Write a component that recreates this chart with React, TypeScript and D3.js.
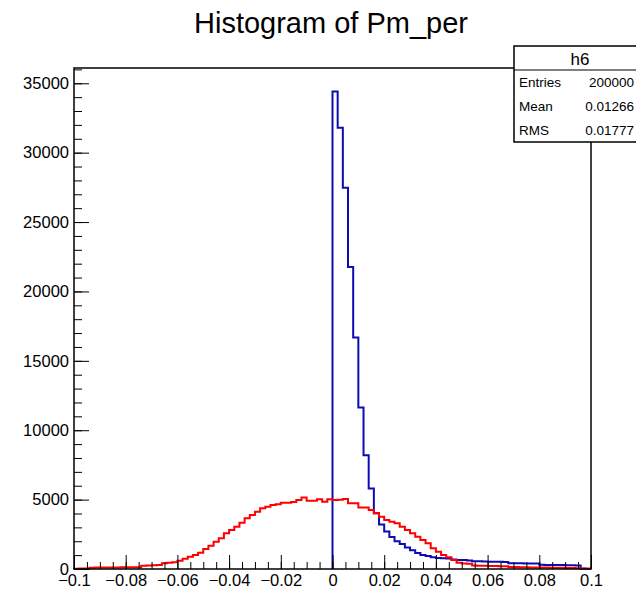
import { useEffect, useRef } from "react";
import * as d3 from "d3";

// histogram h6, 100 bins from -0.1 to 0.1
const xMin = -0.1;
const xMax = 0.1;
const binCount = 100;

const blueCounts = [
  0, 0, 0, 0, 0, 0, 0, 0, 0, 0,
  0, 0, 0, 0, 0, 0, 0, 0, 0, 0,
  0, 0, 0, 0, 0, 0, 0, 0, 0, 0,
  0, 0, 0, 0, 0, 0, 0, 0, 0, 0,
  0, 0, 0, 0, 0, 0, 0, 0, 0, 0,
  34400, 31800, 27470, 21760, 16675, 11640, 8200, 5805, 4010, 3200,
  2700, 2300, 2000, 1800, 1550, 1350, 1150, 1000, 930, 850,
  800, 770, 750, 680, 640, 640, 620, 560, 550, 540,
  530, 520, 520, 510, 420, 410, 410, 400, 400, 390,
  300, 290, 290, 280, 280, 270, 270, 260, 30, 20,
];

const redCounts = [
  20, 30, 40, 90, 100, 100, 110, 110, 110, 120,
  120, 130, 130, 240, 260, 270, 280, 420, 450, 480,
  600, 740, 890, 1000, 1170, 1440, 1680, 1970, 2210, 2570,
  2810, 3050, 3330, 3650, 3890, 4130, 4370, 4490, 4610, 4660,
  4770, 4780, 4830, 4970, 5160, 4920, 4920, 5020, 4850, 5020,
  4970, 4990, 5040, 4730, 4730, 4440, 4440, 4250, 4010, 3770,
  3530, 3410, 3290, 3050, 2810, 2570, 2330, 2090, 1850, 1490,
  1250, 1010, 840, 650, 450, 400, 380, 260, 240, 230,
  220, 210, 200, 190, 150, 140, 130, 120, 115, 110,
  105, 100, 95, 90, 85, 80, 70, 60, 20, 10,
];

const xTicks = [-0.1, -0.08, -0.06, -0.04, -0.02, 0, 0.02, 0.04, 0.06, 0.08, 0.1];
const yTicks = [0, 5000, 10000, 15000, 20000, 25000, 30000, 35000];
const yMax = 36100;

const statNames = ["Entries", "Mean", "RMS"];
const statValues = ["200000", "0.01266", "0.01777"];

const font = "'Liberation Sans', Arial, Helvetica, sans-serif";

export default function App() {
  const svgRef = useRef<SVGSVGElement>(null);

  useEffect(() => {
    if (!svgRef.current) return;
    const svg = d3.select(svgRef.current);
    svg.selectAll("*").remove();

    const left = 74, right = 591, top = 68, bottom = 569;
    const x = d3.scaleLinear().domain([xMin, xMax]).range([left, right]);
    const y = d3.scaleLinear().domain([0, yMax]).range([bottom, top]);
    const binW = (xMax - xMin) / binCount;

    // title
    svg.append("text")
      .attr("x", 331).attr("y", 33)
      .attr("text-anchor", "middle")
      .style("font-family", font).style("font-size", "29px")
      .text("Histogram of Pm_per");

    // histogram outline as steps
    const stepPoints = (counts: number[]) => {
      let first = counts.findIndex((c) => c > 0);
      if (first < 0) first = 0;
      const pts: [number, number][] = [[x(xMin + first * binW), y(0)]];
      for (let i = first; i < counts.length; i++) {
        pts.push([x(xMin + i * binW), y(counts[i])]);
        pts.push([x(xMin + (i + 1) * binW), y(counts[i])]);
      }
      pts.push([x(xMax), y(0)]);
      return pts;
    };
    const line = d3.line();

    svg.append("path")
      .attr("d", line(stepPoints(blueCounts)))
      .attr("fill", "none").attr("stroke", "#0c0cb4").attr("stroke-width", 2);

    svg.append("path")
      .attr("d", line(stepPoints(redCounts)))
      .attr("fill", "none").attr("stroke", "#ff0000").attr("stroke-width", 2);

    // y axis: minor ticks, then major
    const yMinor = d3.range(0, yMax, 1000);
    svg.append("g").attr("transform", `translate(${left},0)`)
      .call(d3.axisLeft(y).tickValues(yMinor).tickSize(-8).tickFormat(() => ""))
      .call((g) => g.select(".domain").remove());
    svg.append("g").attr("transform", `translate(${left},0)`)
      .call(d3.axisLeft(y).tickValues(yTicks).tickSize(-15).tickPadding(5).tickFormat((d) => String(d)))
      .call((g) => g.select(".domain").remove())
      .call((g) => g.selectAll("text").style("font-family", font).style("font-size", "16.5px").attr("fill", "#000"));

    // x axis
    const xMinor = d3.range(-0.1, 0.1001, 0.005);
    svg.append("g").attr("transform", `translate(0,${bottom})`)
      .call(d3.axisBottom(x).tickValues(xMinor).tickSize(-7).tickFormat(() => ""))
      .call((g) => g.select(".domain").remove());
    svg.append("g").attr("transform", `translate(0,${bottom})`)
      .call(d3.axisBottom(x).tickValues(xTicks).tickSize(-14).tickPadding(5)
        .tickFormat((d) => ((d as number) < 0 ? "\u2212" : "") + String(Math.abs(d as number))))
      .call((g) => g.select(".domain").remove())
      .call((g) => g.selectAll("text").style("font-family", font).style("font-size", "16.5px").attr("fill", "#000"));

    // frame
    svg.append("rect")
      .attr("x", left).attr("y", top)
      .attr("width", right - left).attr("height", bottom - top)
      .attr("fill", "none").attr("stroke", "#000").attr("stroke-width", 1.5);

    // stats box
    const bx = 514, by = 46, bw = 140, headH = 24, rowH = 24;
    const stats = svg.append("g");
    stats.append("rect")
      .attr("x", bx).attr("y", by).attr("width", bw).attr("height", headH + rowH * statNames.length)
      .attr("fill", "#fff").attr("stroke", "#000").attr("stroke-width", 1.5);
    stats.append("line")
      .attr("x1", bx).attr("x2", bx + bw).attr("y1", by + headH).attr("y2", by + headH)
      .attr("stroke", "#000").attr("stroke-width", 1.2);
    stats.append("text")
      .attr("x", 580).attr("y", by + headH - 5).attr("text-anchor", "middle")
      .style("font-family", font).style("font-size", "17px").text("h6");
    statNames.forEach((name, i) => {
      const ty = by + headH + rowH * i + 17;
      stats.append("text").attr("x", 519).attr("y", ty)
        .style("font-family", font).style("font-size", "13.5px").text(name);
      stats.append("text").attr("x", 634).attr("y", ty).attr("text-anchor", "end")
        .style("font-family", font).style("font-size", "13.5px").text(statValues[i]);
    });
  }, []);

  return (
    <svg
      ref={svgRef}
      width={636}
      height={595}
      style={{ position: "absolute", left: 0, top: 0, background: "#fff" }}
    />
  );
}
